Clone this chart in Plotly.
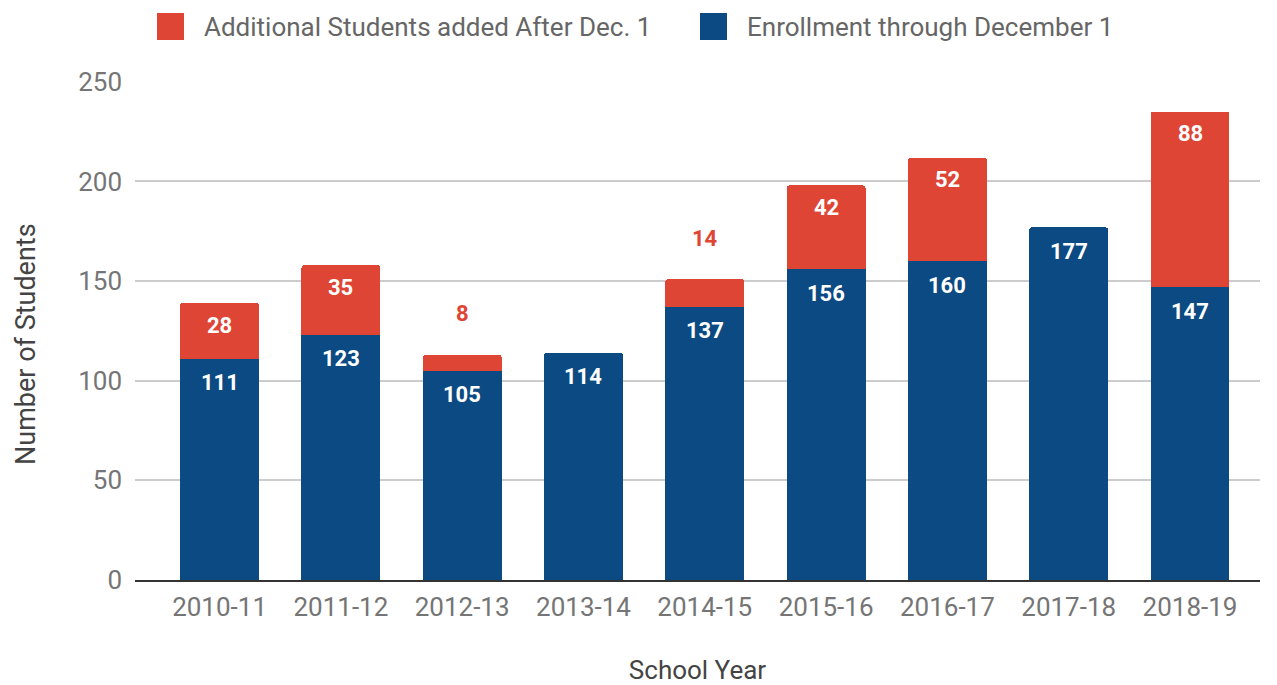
import plotly.graph_objects as go

# Enrollment by school year
school_years = ["2010-11", "2011-12", "2012-13", "2013-14", "2014-15",
                "2015-16", "2016-17", "2017-18", "2018-19"]
through_dec1 = [111, 123, 105, 114, 137, 156, 160, 177, 147]
after_dec1 = [28, 35, 8, 0, 14, 42, 52, 0, 88]

name_after = "Additional Students added After Dec. 1"
name_through = "Enrollment through December 1"

RED = "#DE4535"
BLUE = "#0B4A82"
FONT = "Roboto, Arial, sans-serif"

W, H = 1277, 685
L, R, T, B = 135, W - 1260, 81, H - 580

fig = go.Figure()
fig.add_trace(go.Bar(x=school_years, y=through_dec1, name=name_through,
                     marker=dict(color=BLUE, line=dict(width=0)),
                     hoverinfo="x+y+name"))
fig.add_trace(go.Bar(x=school_years, y=after_dec1, name=name_after,
                     marker=dict(color=RED, line=dict(width=0)),
                     hoverinfo="x+y+name"))

# value labels at the top of each segment
annotations = []
for i, yr in enumerate(school_years):
    base = through_dec1[i]
    annotations.append(dict(x=yr, y=base, xref="x", yref="y", text=str(base),
                            showarrow=False, yshift=-24, yanchor="middle",
                            font=dict(family=FONT, size=22, color="white",
                                      weight="bold")))
    add = after_dec1[i]
    if add > 0:
        if add >= 20:
            annotations.append(dict(x=yr, y=base + add, xref="x", yref="y",
                                    text=str(add), showarrow=False, yshift=-22,
                                    yanchor="middle",
                                    font=dict(family=FONT, size=22, color="white",
                                              weight="bold")))
        else:
            annotations.append(dict(x=yr, y=base + add, xref="x", yref="y",
                                    text=str(add), showarrow=False, yshift=41,
                                    yanchor="middle",
                                    font=dict(family=FONT, size=22, color=RED,
                                              weight="bold")))

# legend drawn as swatches + labels above the plot
pw, ph = W - L - R, H - T - B


def px_x(px):
    return (px - L) / pw


def px_y(py):
    return (H - B - py) / ph


shapes = []
legend_items = [(157, RED, name_after), (700, BLUE, name_through)]
for x0, col, label in legend_items:
    shapes.append(dict(type="rect", xref="paper", yref="paper",
                       x0=px_x(x0), x1=px_x(x0 + 27), y0=px_y(40), y1=px_y(13),
                       fillcolor=col, line=dict(width=0)))
    annotations.append(dict(x=px_x(x0 + 45), y=px_y(26.5), xref="paper",
                            yref="paper", xanchor="left", yanchor="middle",
                            text=label, showarrow=False,
                            font=dict(family=FONT, size=26, color="#666666")))

# vertical axis title
annotations.append(dict(x=px_x(26), y=px_y(344), xref="paper", yref="paper",
                        xanchor="center", yanchor="middle", textangle=-90,
                        text="Number of Students", showarrow=False,
                        font=dict(family=FONT, size=27, color="#444444")))

fig.update_layout(
    width=W, height=H,
    margin=dict(l=L, r=R, t=T, b=B, autoexpand=False),
    barmode="stack",
    bargap=0.35,
    barcornerradius=3,
    showlegend=False,
    plot_bgcolor="white",
    paper_bgcolor="white",
    font=dict(family=FONT, size=26, color="#757575"),
    shapes=shapes,
    annotations=annotations,
    xaxis=dict(
        type="category",
        range=[-0.697, 8.577],
        showgrid=False,
        showline=True, linecolor="#333333", linewidth=2,
        ticks="", ticklabelstandoff=3,
        tickfont=dict(size=26, color="#757575"),
        title=dict(text="School Year", standoff=44,
                   font=dict(size=26, color="#444444")),
        fixedrange=True,
    ),
    yaxis=dict(
        range=[0, 250.4],
        tickvals=[0, 50, 100, 150, 200, 250],
        showgrid=True, gridcolor="#CCCCCC", gridwidth=1.5,
        zeroline=False, showline=False,
        ticks="", ticklabelstandoff=12,
        tickfont=dict(size=26, color="#757575"),
        fixedrange=True,
    ),
)

fig.write_html("out.html")
